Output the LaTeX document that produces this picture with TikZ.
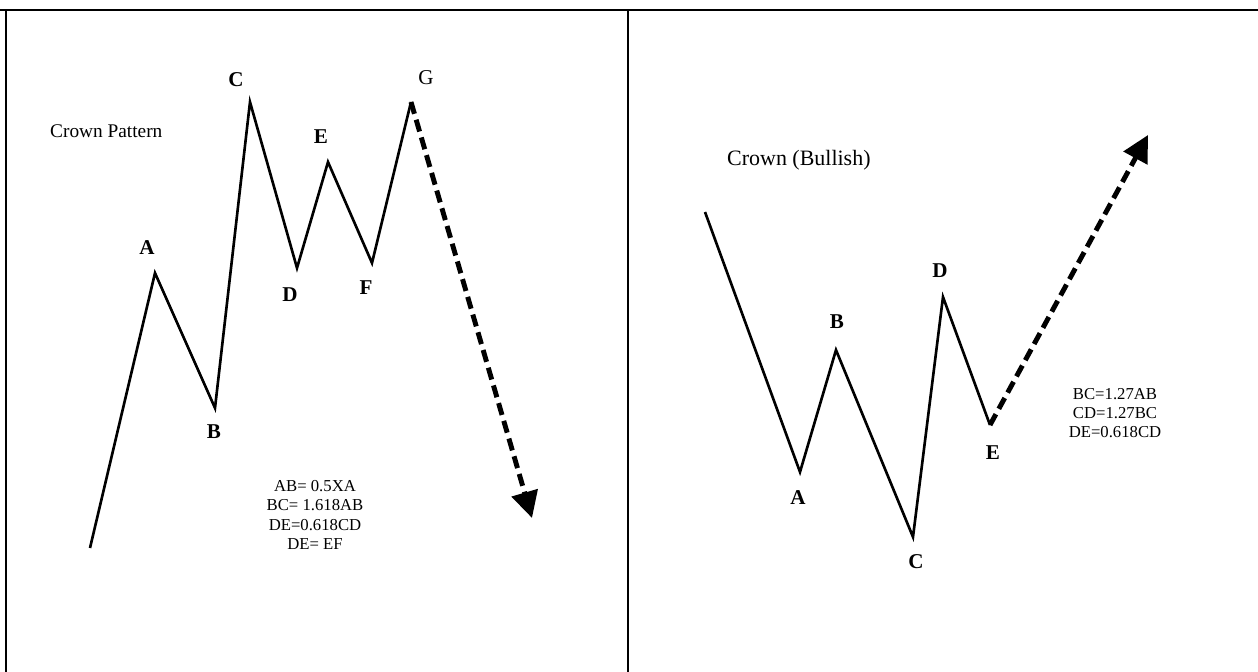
\documentclass[tikz,border=0pt]{standalone}
\usepackage{fontspec}
\setmainfont{Liberation Serif}
\usetikzlibrary{arrows.meta}
\tikzset{wave/.style={line width=1.5pt,line join=miter},
         proj/.style={line width=2.8pt,dash pattern=on 7pt off 3.5pt,
                       -{Triangle[length=15pt,width=15pt]}},
         pt/.style={font=\bfseries\fontsize{12}{14}\selectfont},
         rule/.style={font=\fontsize{9.5}{11}\selectfont,align=center}}
\begin{document}
\begin{tikzpicture}[x=0.02cm,y=-0.02cm]
      \useasboundingbox (0,0) rectangle (1258,672);
      % frame
      \draw[line width=0.8pt] (0,10) -- (1258,10);
      \draw[line width=0.8pt] (6,10) -- (6,672);
      \draw[line width=0.8pt] (628,10) -- (628,672);
      % left panel
            \coordinate (X) at (90,548);
            \coordinate (A) at (155,273);
            \coordinate (B) at (215,408);
            \coordinate (C) at (250,102);
            \coordinate (D) at (297,268);
            \coordinate (E) at (328,162);
            \coordinate (F) at (372,263);
            \coordinate (G) at (411,102);
            \coordinate (T) at (532,518);
            \draw[wave] (X) -- (A) -- (B) -- (C) -- (D) -- (E) -- (F) -- (G);
            \draw[proj] (G) -- (T);
             \node[pt] (lA) at (147,248) {A};
             \node[pt] (lB) at (214,432) {B};
             \node[pt] (lC) at (236,80) {C};
             \node[pt] (lD) at (290,295) {D};
             \node[pt] (lE) at (321,137) {E};
             \node[pt] (lF) at (366,288) {F};
             \node[pt,font=\fontsize{12}{14}\selectfont] (lG) at (426,78) {G};
             \node[font=\fontsize{11}{13}\selectfont,anchor=west] (title1) at (44,131) {Crown Pattern};
             \node[rule] (rules1) at (315,515) {AB= 0.5XA\\BC= 1.618AB\\DE=0.618CD\\DE= EF};
      % right panel
            \coordinate (S) at (705,212);
            \coordinate (a) at (800,472);
            \coordinate (b) at (836,350);
            \coordinate (c) at (913,537);
            \coordinate (d) at (943,297);
            \coordinate (e) at (990,425);
            \coordinate (t) at (1148,135);
            \draw[wave] (S) -- (a) -- (b) -- (c) -- (d) -- (e);
            \draw[proj] (e) -- (t);
             \node[pt] (la) at (798,498) {A};
             \node[pt] (lb) at (837,322) {B};
             \node[pt] (lc) at (916,562) {C};
             \node[pt] (ld) at (940,271) {D};
             \node[pt] (le) at (993,453) {E};
             \node[font=\fontsize{12.5}{14}\selectfont,anchor=west] (title2) at (721,160) {Crown (Bullish)};
             \node[rule] (rules2) at (1115,413) {BC=1.27AB\\CD=1.27BC\\DE=0.618CD};
\end{tikzpicture}
\end{document}
